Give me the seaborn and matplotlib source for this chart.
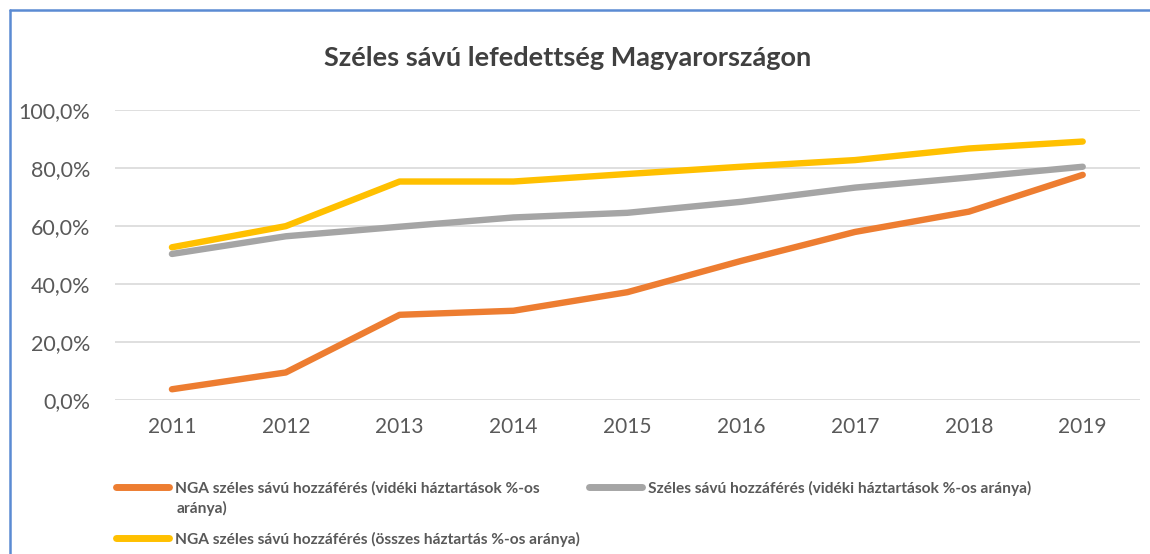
import matplotlib

matplotlib.use("Agg")

import matplotlib.pyplot as plt
import pandas as pd
import seaborn as sns
from matplotlib.lines import Line2D
from matplotlib.ticker import FuncFormatter

# Chart data
years = [2011, 2012, 2013, 2014, 2015, 2016, 2017, 2018, 2019]
nga_rural = [3.7, 9.5, 29.4, 30.8, 37.2, 48.0, 58.0, 65.0, 77.7]
bb_rural = [50.4, 56.5, 59.8, 63.0, 64.6, 68.4, 73.3, 76.8, 80.5]
nga_total = [52.7, 60.0, 75.4, 75.4, 78.0, 80.5, 82.8, 86.8, 89.2]

series_labels = [
    "NGA széles sávú hozzáférés (vidéki háztartások %-os aránya)",
    "NGA széles sávú hozzáférés (összes háztartás %-os aránya)",
    "Széles sávú hozzáférés (vidéki háztartások %-os aránya)",
]
# The first legend entry wraps in the original; second line drawn separately
legend_labels = [
    "NGA széles sávú hozzáférés (vidéki háztartások %-os",
    "NGA széles sávú hozzáférés (összes háztartás %-os aránya)",
    "Széles sávú hozzáférés (vidéki háztartások %-os aránya)",
]
wrapped_tail = "aránya)"
series_values = [nga_rural, nga_total, bb_rural]
series_colors = ["#ED7D31", "#FFC000", "#A5A5A5"]

title = "Széles sávú lefedettség Magyarországon"
y_ticks = [0, 20, 40, 60, 80, 100]

TEXT_COLOR = "#595959"
GRID_COLOR = "#D9D9D9"
BORDER_COLOR = "#5B8BD3"
W, H = 1150, 554


def build_frame() -> pd.DataFrame:
    frames = []
    for label, values in zip(series_labels, series_values):
        frames.append(pd.DataFrame({"year": years, "value": values, "series": label}))
    return pd.concat(frames, ignore_index=True)


def draw_chart(df: pd.DataFrame) -> None:
    sns.set_theme(style="white")
    plt.rcParams["font.family"] = ["Lato", "DejaVu Sans"]

    fig = plt.figure(figsize=(W / 100, H / 100), dpi=100)
    ax = fig.add_axes([0.100, 0.278, 0.891, 0.523])

    # Gridlines drawn first so the series sit on top
    for t in y_ticks:
        ax.axhline(t, color=GRID_COLOR, lw=1.2, zorder=0)

    palette = dict(zip(series_labels, series_colors))
    sns.lineplot(
        data=df,
        x="year",
        y="value",
        hue="series",
        hue_order=series_labels,
        palette=palette,
        linewidth=4.6,
        ax=ax,
        legend=False,
        solid_capstyle="round",
    )

    ax.set_xlim(years[0] - 0.5, years[-1] + 0.5)
    ax.set_ylim(0, 100)
    ax.set_xticks(years)
    ax.set_xticklabels([str(y) for y in years])
    ax.set_yticks(y_ticks)
    ax.yaxis.set_major_formatter(
        FuncFormatter(lambda v, _: f"{v:.1f}%".replace(".", ","))
    )
    ax.tick_params(axis="both", length=0, labelsize=15.5, colors=TEXT_COLOR)
    ax.tick_params(axis="x", labelsize=15, pad=12)
    ax.tick_params(axis="y", pad=18)
    ax.set_xlabel("")
    ax.set_ylabel("")
    for spine in ax.spines.values():
        spine.set_visible(False)

    fig.text(
        0.494, 1 - 58 / H, title,
        ha="center", va="center", fontsize=19.5, fontweight="bold", color="#404040",
    )

    handles = [
        Line2D([0], [0], color=c, lw=5, solid_capstyle="round") for c in series_colors
    ]
    fig.legend(
        handles,
        legend_labels,
        loc="upper left",
        bbox_to_anchor=(0.094, 1 - 473 / H),
        ncol=2,
        frameon=False,
        prop={"weight": "bold", "size": 11.2},
        labelcolor=TEXT_COLOR,
        handlelength=3.4,
        handletextpad=0.4,
        columnspacing=0.6,
        labelspacing=2.3,
        borderpad=0,
    )
    fig.text(
        177 / W, 1 - 508 / H, wrapped_tail,
        ha="left", va="center", fontsize=11.2, fontweight="bold", color=TEXT_COLOR,
    )

    # Blue frame edges visible in the screenshot (top and left)
    fig.add_artist(Line2D([10 / W, 10 / W], [0, 1 - 10 / H],
                          transform=fig.transFigure, color=BORDER_COLOR, lw=1.8))
    fig.add_artist(Line2D([10 / W, 1], [1 - 10 / H, 1 - 10 / H],
                          transform=fig.transFigure, color=BORDER_COLOR, lw=1.8))

    fig.savefig("out.png", dpi=100, facecolor="white")
    plt.close(fig)


if __name__ == "__main__":
    draw_chart(build_frame())
